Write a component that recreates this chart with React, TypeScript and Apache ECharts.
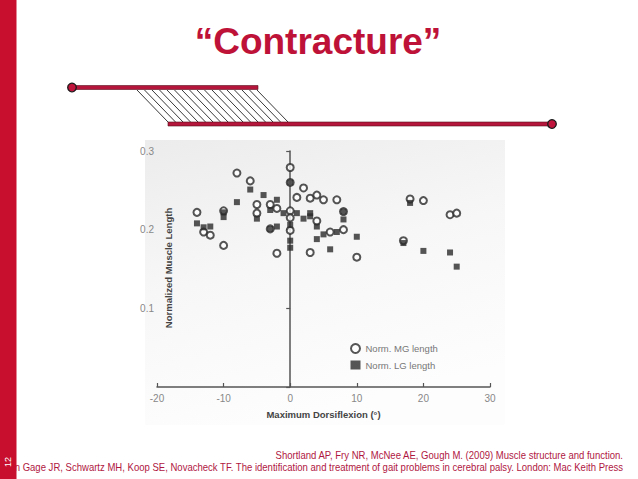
import React, { useEffect, useRef } from "react";
import * as echarts from "echarts";

// ---- data ----
const xTicks = [-20, -10, 0, 10, 20, 30];
const yTicks = [0.1, 0.2, 0.3];

// Norm. MG length (open circles): [max dorsiflexion (deg), normalized length]
const mgLength: [number, number][] = [
  [0, 0.279], [0, 0.26], [-8, 0.272], [-6, 0.262], [2, 0.253], [1, 0.241],
  [3, 0.24], [4, 0.244], [5, 0.238], [7, 0.238], [-5, 0.232], [-3, 0.232],
  [-2, 0.227], [-14, 0.222], [-5, 0.221], [0, 0.224], [0, 0.215], [4, 0.211],
  [0, 0.199], [-13, 0.197], [-12, 0.193], [6, 0.197], [8, 0.2], [-10, 0.18],
  [-2, 0.17], [3, 0.171], [10, 0.165], [18, 0.239], [20, 0.237], [24, 0.219],
  [25, 0.221], [17, 0.186], [8, 0.223], [-10, 0.224], [-3, 0.201],
];

// Norm. LG length (filled squares)
const lgLength: [number, number][] = [
  [-6, 0.251], [-4, 0.244], [-8, 0.235], [-2, 0.238], [-10, 0.222], [-10, 0.216],
  [-5, 0.214], [-3, 0.225], [-1, 0.221], [1, 0.221], [3, 0.221], [3, 0.217],
  [2, 0.214], [0, 0.206], [4, 0.204], [8, 0.223], [8, 0.213], [7, 0.197],
  [5, 0.194], [4, 0.188], [10, 0.191], [-14, 0.208], [-13, 0.203], [-12, 0.204],
  [-3, 0.201], [-2, 0.204], [0, 0.186], [0, 0.177], [6, 0.175], [0, 0.26],
  [18, 0.234], [17, 0.183], [20, 0.173], [24, 0.171], [25, 0.153],
];

const seriesNames = ["Norm. MG length", "Norm. LG length"];
const titleText = "\u201CContracture\u201D";
const xName = "Maximum Dorsiflexion (\u00B0)";
const yName = "Normalized Muscle Length";
const citation1 = "Shortland AP, Fry NR, McNee AE, Gough M. (2009) Muscle structure and function.";
const citation2 =
  "In Gage JR, Schwartz MH, Koop SE, Novacheck TF. The identification and treatment of gait problems in cerebral palsy. London: Mac Keith Press";
const slideNumber = "12";

const RED = "#c8102e";
const TITLE_RED = "#be1238";

export default function App() {
  const ref = useRef<HTMLDivElement>(null);

  useEffect(() => {
    if (!ref.current) return;
    const chart = echarts.init(ref.current, undefined, { renderer: "svg" });

    const hatch: any[] = [];
    for (let i = 0; i < 17; i++) {
      const x0 = 137 + i * 7.5;
      hatch.push({
        type: "line",
        shape: { x1: x0, y1: 90, x2: x0 + 31, y2: 122 },
        style: { stroke: "#222", lineWidth: 0.9 },
        z: 50,
      });
    }

    chart.setOption({
      animation: false,
      backgroundColor: "#ffffff",
      grid: { left: 157, top: 151, width: 333, height: 236, containLabel: false },
      legend: {
        orient: "vertical",
        left: 345,
        top: 338,
        itemWidth: 10,
        itemHeight: 9,
        itemGap: 6,
        data: seriesNames,
        textStyle: { color: "#777", fontSize: 9.5, fontFamily: "Liberation Sans, Arial, sans-serif" },
      },
      xAxis: {
        type: "value",
        min: -20,
        max: 30,
        interval: 10,
        name: xName,
        nameLocation: "middle",
        nameGap: 22,
        nameTextStyle: { color: "#444", fontSize: 9.5, fontWeight: "bold", fontFamily: "Liberation Sans, Arial, sans-serif" },
        axisLine: { onZero: true, lineStyle: { color: "#555", width: 1.5 } },
        axisTick: { show: true, inside: true, length: 4, lineStyle: { color: "#555", width: 1.2 } },
        axisLabel: {
          color: "#888",
          fontSize: 10,
          margin: 6,
          fontFamily: "Liberation Sans, Arial, sans-serif",
          formatter: (v: number) => (xTicks.includes(v) ? String(v) : ""),
        },
        splitLine: { show: false },
      },
      yAxis: {
        type: "value",
        min: 0,
        max: 0.3,
        interval: 0.1,
        axisLine: { onZero: true, lineStyle: { color: "#555", width: 1.5 } },
        axisTick: { show: true, inside: false, length: 4, lineStyle: { color: "#555", width: 1.2 } },
        axisLabel: {
          color: "#888",
          fontSize: 10,
          margin: 3,
          fontFamily: "Liberation Sans, Arial, sans-serif",
          formatter: (v: number) => {
            const hit = yTicks.find((t) => Math.abs(t - v) < 1e-9);
            return hit !== undefined ? hit.toFixed(1) : "";
          },
        },
        splitLine: { show: false },
      },
      series: [
        {
          name: seriesNames[0],
          type: "scatter",
          symbol: "emptyCircle",
          symbolSize: 7,
          data: mgLength,
          itemStyle: { color: "#2b2b2b", borderWidth: 2 },
          z: 3,
        },
        {
          name: seriesNames[1],
          type: "scatter",
          symbol: "rect",
          symbolSize: 6,
          data: lgLength,
          itemStyle: { color: "#2b2b2b" },
          z: 4,
        },
      ],
      graphic: [
        {
          type: "rect",
          shape: { x: 145, y: 140, width: 360, height: 285 },
          style: {
            fill: new echarts.graphic.LinearGradient(0, 0, 0.3, 1, [
              { offset: 0, color: "#ececec" },
              { offset: 0.5, color: "#f7f7f7" },
              { offset: 1, color: "#fdfdfd" },
            ]),
          },
          z: -100,
          silent: true,
        },
        {
          type: "text",
          x: 168,
          y: 268,
          rotation: Math.PI / 2,
          style: {
            text: yName,
            fill: "#444",
            fontSize: 9.5,
            fontWeight: "bold",
            fontFamily: "Liberation Sans, Arial, sans-serif",
            align: "center",
            verticalAlign: "middle",
          },
        },
        {
          type: "text",
          x: 318,
          y: 41,
          style: {
            text: titleText,
            fill: TITLE_RED,
            fontSize: 37,
            fontWeight: "bold",
            fontFamily: "Liberation Sans, Arial, sans-serif",
            align: "center",
            verticalAlign: "middle",
          },
        },
        {
          type: "rect",
          shape: { x: 72, y: 85.5, width: 186, height: 4 },
          style: { fill: "#b3163a", stroke: "#5a0d1c", lineWidth: 0.6 },
          z: 60,
        },
        {
          type: "rect",
          shape: { x: 168, y: 122, width: 384, height: 4 },
          style: { fill: "#b3163a", stroke: "#5a0d1c", lineWidth: 0.6 },
          z: 60,
        },
        ...hatch,
        {
          type: "circle",
          shape: { cx: 72, cy: 87.5, r: 4.3 },
          style: { fill: "#c0143c", stroke: "#1a1a1a", lineWidth: 1.3 },
          z: 70,
        },
        {
          type: "circle",
          shape: { cx: 552, cy: 124, r: 4.3 },
          style: { fill: "#c0143c", stroke: "#1a1a1a", lineWidth: 1.3 },
          z: 70,
        },
        {
          type: "text",
          x: 623,
          y: 455,
          scaleX: 0.91,
          style: {
            text: citation1,
            fill: "#b0173f",
            fontSize: 10.5,
            fontFamily: "Liberation Sans, Arial, sans-serif",
            align: "right",
            verticalAlign: "middle",
          },
          z: 40,
        },
        {
          type: "text",
          x: 623,
          y: 467,
          scaleX: 0.91,
          style: {
            text: citation2,
            fill: "#b0173f",
            fontSize: 10.5,
            fontFamily: "Liberation Sans, Arial, sans-serif",
            align: "right",
            verticalAlign: "middle",
          },
          z: 40,
        },
        {
          type: "rect",
          shape: { x: 0, y: 0, width: 16.5, height: 479 },
          style: { fill: RED },
          z: 90,
        },
        {
          type: "text",
          x: 8,
          y: 462,
          rotation: Math.PI / 2,
          style: {
            text: slideNumber,
            fill: "#ffffff",
            fontSize: 9,
            fontFamily: "Liberation Sans, Arial, sans-serif",
            align: "center",
            verticalAlign: "middle",
          },
          z: 95,
        },
      ],
    });

    return () => chart.dispose();
  }, []);

  return (
    <div
      ref={ref}
      style={{ position: "fixed", left: 0, top: 0, width: 638, height: 479 }}
    />
  );
}
